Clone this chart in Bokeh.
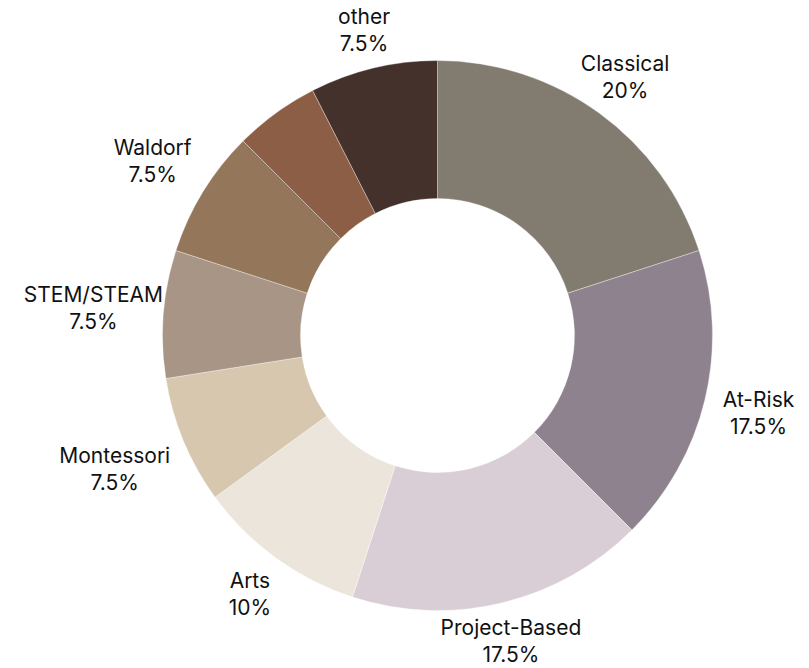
import math
from bokeh.plotting import figure
from bokeh.models import ColumnDataSource
from bokeh.core.properties import value
from bokeh.embed import file_html
from bokeh.resources import INLINE

# ---- data ----
categories = ["Classical", "At-Risk", "Project-Based", "Arts", "Montessori",
              "STEM/STEAM", "Waldorf", "(unlabeled)", "other"]
percents = [20, 17.5, 17.5, 10, 7.5, 7.5, 7.5, 5, 7.5]
colors = ["#827b6f", "#8e828f", "#d9ced6", "#ece5db", "#d6c7ae",
          "#a99585", "#94765a", "#8d5e46", "#45312b"]
label_min = 7.5  # slices smaller than this carry no label

# ---- geometry (pixel units) ----
W, H = 809, 668
cx, cy = 437, H - 335
R_out, R_in = 275, 137
pad = 17
fs = 21
char_w = 10.6
line_h = 27
half_h = 22

total = sum(percents)
starts, ends, mids = [], [], []
acc = 0.0
for v in percents:
    a0 = math.pi / 2 - 2 * math.pi * acc / total
    acc += v
    a1 = math.pi / 2 - 2 * math.pi * acc / total
    starts.append(a0)
    ends.append(a1)
    mids.append((a0 + a1) / 2)

src = ColumnDataSource(dict(x=[cx] * len(percents), y=[cy] * len(percents),
                            start=starts, end=ends, color=colors))

p = figure(width=W, height=H, x_range=(0, W), y_range=(0, H),
           output_backend="svg", toolbar_location=None, min_border=0)
p.axis.visible = False
p.grid.visible = False
p.outline_line_color = None
p.background_fill_color = "white"
p.border_fill_color = "white"

p.annular_wedge(x="x", y="y", inner_radius=R_in, outer_radius=R_out,
                start_angle="start", end_angle="end", direction="clock",
                fill_color="color", line_color="white", line_width=0.5,
                line_alpha=0.7,
                source=src, inner_radius_units="data", outer_radius_units="data")

lx, ly, names, pcts = [], [], [], []
for cat, v, m in zip(categories, percents, mids):
    if v < label_min:
        continue
    pct = f"{v:g}%"
    w = char_w * max(len(cat), len(pct))
    hw = w / 2
    c, s = abs(math.cos(m)), abs(math.sin(m))
    ext = min(hw / c if c > 1e-6 else 1e9, half_h / s if s > 1e-6 else 1e9)
    r = R_out + pad + ext
    lx.append(cx + r * math.cos(m))
    ly.append(cy + r * math.sin(m))
    names.append(cat)
    pcts.append(pct)

lsrc = ColumnDataSource(dict(x=lx, y=ly, name=names, pct=pcts))
common = dict(x="x", y="y", source=lsrc, text_align="center",
              text_baseline="middle", text_font=value("Inter"),
              text_font_size=f"{fs}px", text_color="#111111")
p.text(text="name", y_offset=-line_h / 2, **common)
p.text(text="pct", y_offset=line_h / 2, **common)

open("out.html", "w").write(file_html(p, INLINE))
